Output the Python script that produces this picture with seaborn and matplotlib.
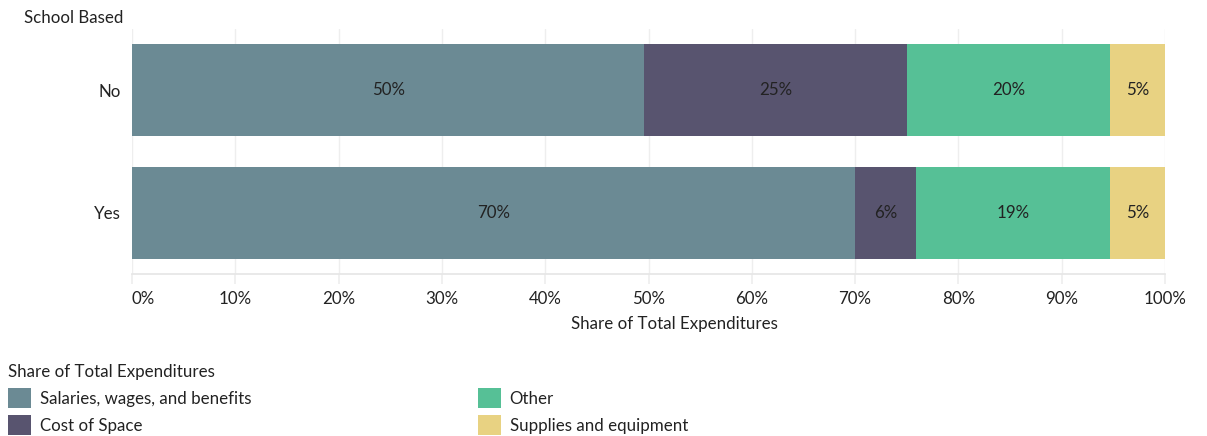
import matplotlib
matplotlib.use("Agg")
import matplotlib.pyplot as plt
from matplotlib.patches import Patch
import seaborn as sns
import pandas as pd

# Expenditure shares (%) by whether the program is school based
groups = ["No", "Yes"]
categories = ["Salaries, wages, and benefits", "Cost of Space", "Other", "Supplies and equipment"]
salaries = [49.6, 70.0]
cost_of_space = [25.4, 5.9]
other = [19.7, 18.8]
supplies = [5.3, 5.3]
x_ticks = [0, 10, 20, 30, 40, 50, 60, 70, 80, 90, 100]
x_tick_labels = [f"{t}%" for t in x_ticks]
colors = ["#6b8a94", "#58546f", "#56c096", "#e8d282"]

sns.set_theme(style="white")
plt.rcParams["font.family"] = ["Lato", "DejaVu Sans"]
FS = 12.2
TXT = "#222222"

series = [salaries, cost_of_space, other, supplies]
rows = []
for gi, g in enumerate(groups):
    cum = 0.0
    for ci, c in enumerate(categories):
        v = series[ci][gi]
        rows.append({"group": g, "category": c, "value": v, "start": cum, "end": cum + v})
        cum += v
df = pd.DataFrame(rows)

fig = plt.figure(figsize=(12.07, 4.36), dpi=100)
ax = fig.add_axes([132 / 1207, 1 - 274 / 436, (1165 - 132) / 1207, (274 - 29) / 436])

# Stacked bars: draw cumulative totals from the outermost segment inward
for ci in reversed(range(len(categories))):
    sub = df[df["category"] == categories[ci]]
    sns.barplot(data=sub, x="end", y="group", order=groups, color=colors[ci],
                orient="h", width=0.754, saturation=1, linewidth=0, ax=ax, zorder=2)

for _, r in df.iterrows():
    ax.text((r["start"] + r["end"]) / 2, groups.index(r["group"]), f"{r['value']:.0f}%",
            ha="center", va="center", fontsize=FS, color=TXT, zorder=3)

ax.set_xlim(0, 100)
ax.set_ylim(1.5, -0.5)
ax.set_xticks(x_ticks)
ax.set_xticklabels(x_tick_labels)
ax.xaxis.grid(True, color="#eeeeee", linewidth=1, zorder=0)
ax.set_axisbelow(True)
ax.set_xlabel("")
ax.set_ylabel("")
for s in ["top", "right", "left"]:
    ax.spines[s].set_visible(False)
ax.spines["bottom"].set_color("#e6e6e6")
ax.tick_params(axis="x", length=7, color="#eeeeee", labelsize=FS, labelcolor=TXT, pad=5, bottom=True)
ax.tick_params(axis="y", length=0, labelsize=FS, labelcolor=TXT, pad=8)
ax.get_xticklabels()[0].set_horizontalalignment("left")

fig.text(123 / 1207, 1 - 18 / 436, "School Based", ha="right", va="center", fontsize=FS, color=TXT)
fig.text(674 / 1207, 1 - 324 / 436, "Share of Total Expenditures", ha="center", va="center",
         fontsize=FS, color=TXT)

handles = [Patch(facecolor=c, edgecolor="none") for c in colors]
leg = fig.legend(handles, categories, loc="upper left", bbox_to_anchor=(0.0, 1 - 356 / 436),
                 ncol=2, frameon=False, fontsize=FS, title="Share of Total Expenditures",
                 title_fontsize=FS, alignment="left", handlelength=1.35, handleheight=1.4,
                 handletextpad=0.5, labelspacing=0.45, columnspacing=13.4, borderpad=0.2,
                 borderaxespad=0.3)
for t in leg.get_texts():
    t.set_color(TXT)
leg.get_title().set_color(TXT)

fig.savefig("out.png", dpi=100)
